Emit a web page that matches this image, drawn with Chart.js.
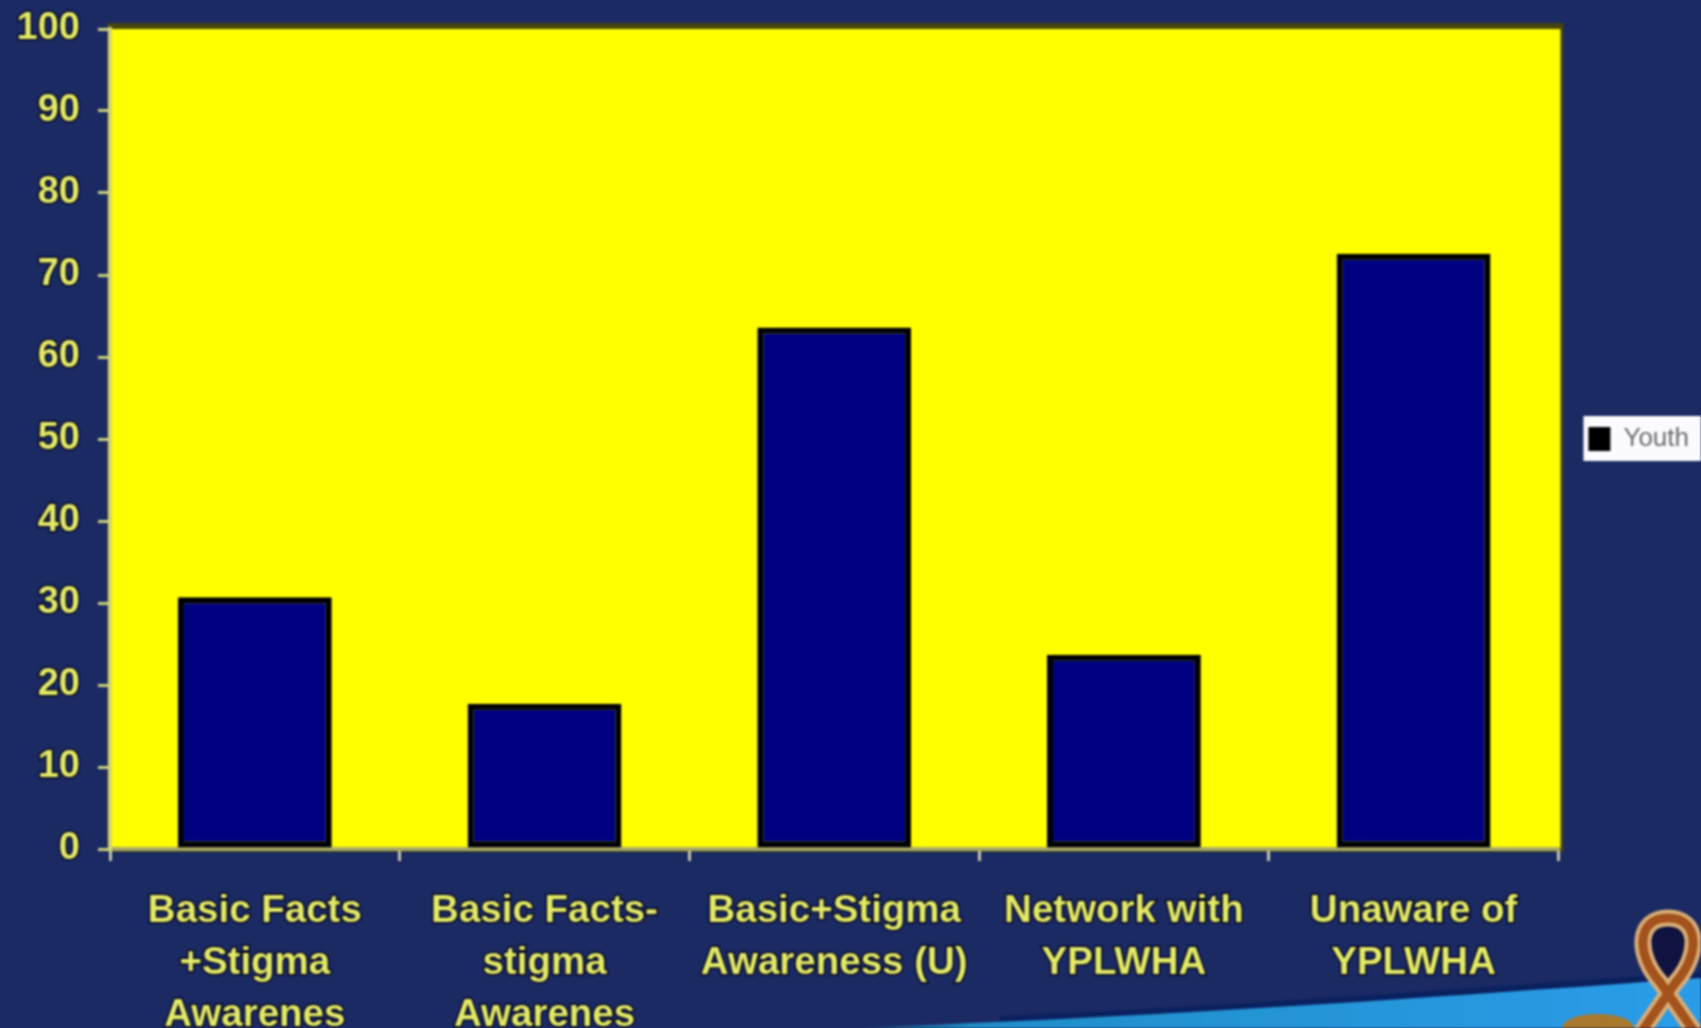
<!DOCTYPE html>
<html>
<head>
<meta charset="utf-8">
<title>Youth</title>
<script src="https://cdn.jsdelivr.net/npm/chart.js@4"></script>
<style>
    html, body { margin: 0; padding: 0; background: #1b2a63; overflow: hidden; }
    canvas { display: block; filter: blur(0.9px); }
</style>
</head>
<body>
<canvas id="youth-chart" width="1701" height="1028"></canvas>
<script>
//datos
const categories = [
    ['Basic Facts', '+Stigma', 'Awarenes'],
    ['Basic Facts-', 'stigma', 'Awarenes'],
    ['Basic+Stigma', 'Awareness (U)'],
    ['Network with', 'YPLWHA'],
    ['Unaware of', 'YPLWHA']
];
const seriesName = 'Youth';
const youthValues = [30.7, 17.7, 63.6, 23.7, 72.6];
const yTickStep = 10;
const yMax = 100;

const textColor = '#e3ea66';
const haloColor = '#05051f';

//fondo amarillo, caja de la leyenda y adorno de la esquina
const decoration = {
    id: 'decoration',
    beforeDraw(chart) {
        const c = chart.ctx;
        const a = chart.chartArea;

        // swoosh azul
        const grad = c.createLinearGradient(850, 0, 1650, 0);
        grad.addColorStop(0, '#1b2a63');
        grad.addColorStop(0.15, '#1f8fc8');
        grad.addColorStop(1, '#2a9be6');
        c.save();
        c.strokeStyle = '#0a2160';
        c.lineWidth = 8;
        c.beginPath();
        c.moveTo(1000, 1020);
        c.bezierCurveTo(1200, 1012, 1450, 994, 1701, 976);
        c.stroke();
        c.fillStyle = grad;
        c.beginPath();
        c.moveTo(840, 1028);
        c.bezierCurveTo(1100, 1020, 1400, 1000, 1701, 978);
        c.lineTo(1701, 1028);
        c.closePath();
        c.fill();

        // borde y area amarilla
        c.fillStyle = '#454510';
        c.fillRect(a.left - 3, a.top - 6, a.width + 8, a.height + 9);
        c.fillStyle = '#ffff00';
        c.fillRect(a.left, a.top, a.width + 2, a.height);

        // caja blanca de la leyenda
        const box = chart.legend.legendHitBoxes[0];
        if (box) {
            c.fillStyle = '#fbfbff';
            c.fillRect(box.left - 5, 416, 1701 - box.left + 5, 45);
        }
        c.restore();
    },
    afterDraw(chart) {
        const c = chart.ctx;
        c.save();
        c.fillStyle = '#a8782c';
        c.beginPath();
        c.ellipse(1598, 1028, 36, 14, 0, 0, Math.PI * 2);
        c.fill();

        // liston
        const loop = () => {
            c.beginPath();
            c.moveTo(1640, 1034);
            c.lineTo(1676, 982);
            c.bezierCurveTo(1700, 955, 1700, 918, 1668, 918);
            c.bezierCurveTo(1636, 918, 1636, 955, 1660, 982);
            c.lineTo(1696, 1034);
            c.stroke();
        };
        c.lineCap = 'butt';
        c.fillStyle = '#10123f';
        c.beginPath();
        c.moveTo(1668, 985);
        c.bezierCurveTo(1700, 955, 1700, 918, 1668, 918);
        c.bezierCurveTo(1636, 918, 1636, 955, 1668, 985);
        c.fill();
        c.lineWidth = 17;
        c.strokeStyle = '#d9ad78';
        loop();
        c.lineWidth = 9;
        c.strokeStyle = '#a2521a';
        loop();
        c.restore();
    }
};

new Chart(document.getElementById('youth-chart'), {
    type: 'bar',
    plugins: [decoration],
    data: {
        labels: categories,
        datasets: [{
            label: seriesName,
            data: youthValues,
            backgroundColor: '#000080',
            borderColor: '#000000',
            borderWidth: 6,
            borderSkipped: false,
            barPercentage: 154 / 290,
            categoryPercentage: 1
        }]
    },
    options: {
        responsive: false,
        animation: false,
        layout: {
            padding: { top: 29, right: 2, bottom: 0, left: 0 }
        },
        plugins: {
            tooltip: { enabled: false },
            legend: {
                display: true,
                position: 'right',
                fullSize: false,
                labels: {
                    boxWidth: 22,
                    boxHeight: 24,
                    padding: 30,
                    font: { family: 'Liberation Sans', size: 26 },
                    generateLabels: () => [{
                        text: seriesName,
                        fillStyle: '#000000',
                        strokeStyle: '#000000',
                        fontColor: '#6d6d6d',
                        lineWidth: 0,
                        datasetIndex: 0
                    }]
                }
            }
        },
        scales: {
            x: {
                afterFit: (scale) => { scale.height = 179; },
                border: { color: '#a9a96a', width: 4 },
                grid: {
                    drawOnChartArea: false,
                    color: '#c7c7a8',
                    lineWidth: 3,
                    tickLength: 12
                },
                ticks: {
                    color: textColor,
                    textStrokeColor: haloColor,
                    textStrokeWidth: 3,
                    padding: 24,
                    maxRotation: 0,
                    autoSkip: false,
                    font: { family: 'Liberation Sans', size: 38.5, weight: 'bold', lineHeight: 1.35 }
                }
            },
            y: {
                min: 0,
                max: yMax,
                afterFit: (scale) => {
                    scale.width = 110;
                    scale.paddingTop = 0;
                    scale.paddingBottom = 0;
                },
                border: { color: '#cfd47a', width: 4 },
                grid: {
                    drawOnChartArea: false,
                    color: '#cfd47a',
                    lineWidth: 3,
                    tickLength: 12
                },
                ticks: {
                    stepSize: yTickStep,
                    color: textColor,
                    textStrokeColor: haloColor,
                    textStrokeWidth: 3,
                    padding: 18,
                    font: { family: 'Liberation Sans', size: 38, weight: 'bold' }
                }
            }
        }
    }
});
</script>
</body>
</html>
